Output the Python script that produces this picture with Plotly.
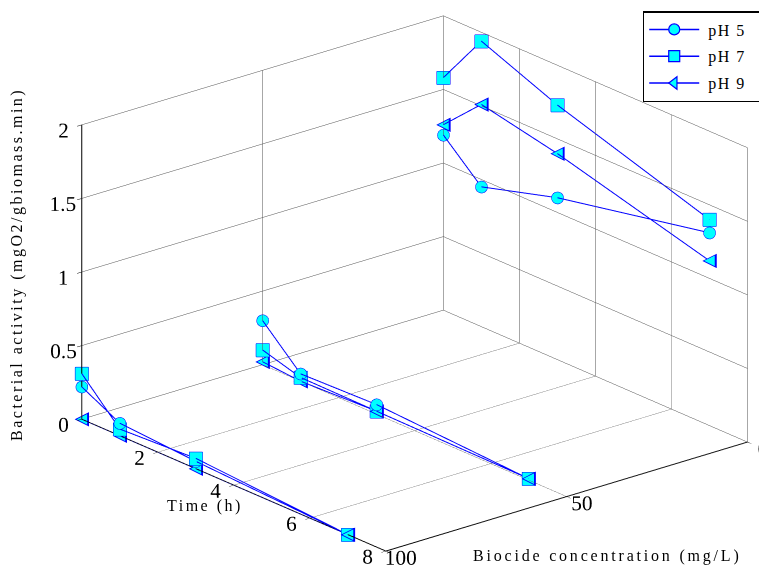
import plotly.graph_objects as go

# ---------------- data ----------------
times = [0, 1, 3, 7]                      # h
biocide_levels = [100, 50, 0]             # mg/L

ph5_b100 = [0.22, 0.085, 0.05, 0.0]
ph5_b50 = [0.30, 0.05, 0.065, 0.01]
ph5_b0 = [1.19, 0.95, 1.10, 1.31]

ph7_b100 = [0.31, 0.045, 0.07, 0.0]
ph7_b50 = [0.10, 0.025, 0.02, 0.01]
ph7_b0 = [1.58, 1.94, 1.73, 1.40]

ph9_b100 = [0.0, 0.0, 0.0, 0.0]
ph9_b50 = [0.02, 0.0, 0.02, 0.01]
ph9_b0 = [1.26, 1.51, 1.40, 1.12]

series_names = ["pH 5", "pH 7", "pH 9"]
time_ticks = [0, 2, 4, 6, 8]
biocide_ticks = [0, 50, 100]
activity_ticks = [0, 0.5, 1, 1.5, 2]
activity_ticklabels = ["0", "0.5", "1", "1.5", "2"]

BLUE = "rgb(0,0,255)"
CYAN = "rgb(0,255,255)"
FONT = "Liberation Serif"

W, H = 759, 563   # page body has an 8px margin inside the 767x571 window


def build(per_level):
    xs, ys, zs = [], [], []
    for level, vals in zip(biocide_levels, per_level):
        if xs:
            xs.append(None); ys.append(None); zs.append(None)
        xs += times
        ys += [level] * len(times)
        zs += vals
    return xs, ys, zs


fig = go.Figure()

x5, y5, z5 = build([ph5_b100, ph5_b50, ph5_b0])
x7, y7, z7 = build([ph7_b100, ph7_b50, ph7_b0])
x9, y9, z9 = build([ph9_b100, ph9_b50, ph9_b0])

fig.add_trace(go.Scatter3d(
    x=x5, y=y5, z=z5, mode="lines+markers", name=series_names[0], showlegend=False,
    connectgaps=False, line=dict(color=BLUE, width=2),
    marker=dict(symbol="circle", size=7, color=CYAN, line=dict(color=BLUE, width=1))))
fig.add_trace(go.Scatter3d(
    x=x7, y=y7, z=z7, mode="lines+markers", name=series_names[1], showlegend=False,
    connectgaps=False, line=dict(color=BLUE, width=2),
    marker=dict(symbol="square", size=7, color=CYAN, line=dict(color=BLUE, width=1))))
fig.add_trace(go.Scatter3d(
    x=x9, y=y9, z=z9, mode="lines", name=series_names[2], showlegend=False,
    connectgaps=False, line=dict(color=BLUE, width=2)))
fig.add_trace(go.Scatter3d(
    x=x9, y=y9, z=z9, mode="text", text=["\u25C0" if v is not None else "" for v in x9],
    textposition="middle center", textfont=dict(color=BLUE, size=19, family="DejaVu Sans"),
    showlegend=False, hoverinfo="skip"))
fig.add_trace(go.Scatter3d(
    x=x9, y=y9, z=z9, mode="text", text=["\u25C0" if v is not None else "" for v in x9],
    textposition="middle center", textfont=dict(color=CYAN, size=14, family="DejaVu Sans"),
    showlegend=False, hoverinfo="skip"))

# legend entries (2D dummy traces, hidden axes)
for nm, sym in zip(series_names, ["circle", "square", "triangle-left"]):
    fig.add_trace(go.Scatter(
        x=[None], y=[None], mode="lines+markers", legendgroup=nm,
        name='\u00a0<span style="letter-spacing:1.5px">%s</span>\u00a0\u00a0\u00a0' % nm,
        line=dict(color=BLUE, width=1.5),
        marker=dict(symbol=sym, size=11, color=CYAN, line=dict(color=BLUE, width=1.2))))

axis_common = dict(
    showbackground=False, showgrid=True, gridcolor="rgb(80,80,80)", gridwidth=1,
    showline=True, linecolor="black", linewidth=2, zeroline=False,
    ticks="outside", tickcolor="black", ticklen=6, showspikes=False, tickangle=0,
    tickfont=dict(family=FONT, size=16, color="black"), title=dict(text=""),
)


def px(x, y):
    """window pixel -> paper coords of the figure (offset by the 8px body margin)"""
    return (x - 8) / W, 1 - (y - 8) / H


ann = []
for txt, (wx, wy), ang, sp in [
    ("Bacterial activity (mgO2/gbiomass.min)", (17, 265), -90, 2.5),
    ("Time (h)", (205, 506), 0, 2.5),
    ("Biocide concentration (mg/L)", (607, 556), 0, 2.8),
]:
    ax_, ay_ = px(wx, wy)
    ann.append(dict(text='<span style="letter-spacing:%spx">%s</span>' % (sp, txt),
                    x=ax_, y=ay_, xref="paper", yref="paper", xanchor="center", yanchor="middle",
                    textangle=ang, showarrow=False, font=dict(family=FONT, size=16)))

fig.update_layout(
    width=W, height=H,
    margin=dict(l=0, r=0, t=0, b=0),
    paper_bgcolor="white", plot_bgcolor="rgba(0,0,0,0)",
    font=dict(family=FONT, size=15, color="black"),
    xaxis=dict(visible=False, domain=[0, 0.01]),
    yaxis=dict(visible=False, domain=[0, 0.01]),
    scene=dict(
        domain=dict(x=[0.0, 1.0], y=[0.0, 1.0]),
        xaxis=dict(axis_common, range=[0, 8], tickvals=time_ticks),
        yaxis=dict(axis_common, range=[100, 0], tickvals=biocide_ticks),
        zaxis=dict(axis_common, range=[0, 2], tickvals=activity_ticks, ticktext=activity_ticklabels),
        aspectmode="manual", aspectratio=dict(x=1.687, y=1.6725, z=1.1216),
        camera=dict(
            projection=dict(type="orthographic"),
            up=dict(x=0, y=0, z=1), center=dict(x=-0.0557, y=-0.0790, z=-0.0200),
            eye=dict(x=1.7343, y=-1.5715, z=0.884),
        ),
    ),
    legend=dict(x=0.997, y=1 - 3 / H, xanchor="right", yanchor="top",
                bgcolor="white", bordercolor="black", borderwidth=1.5, itemwidth=50,
                tracegroupgap=3, font=dict(family=FONT, size=16)),
    annotations=ann,
)

fig.write_html("out.html")
